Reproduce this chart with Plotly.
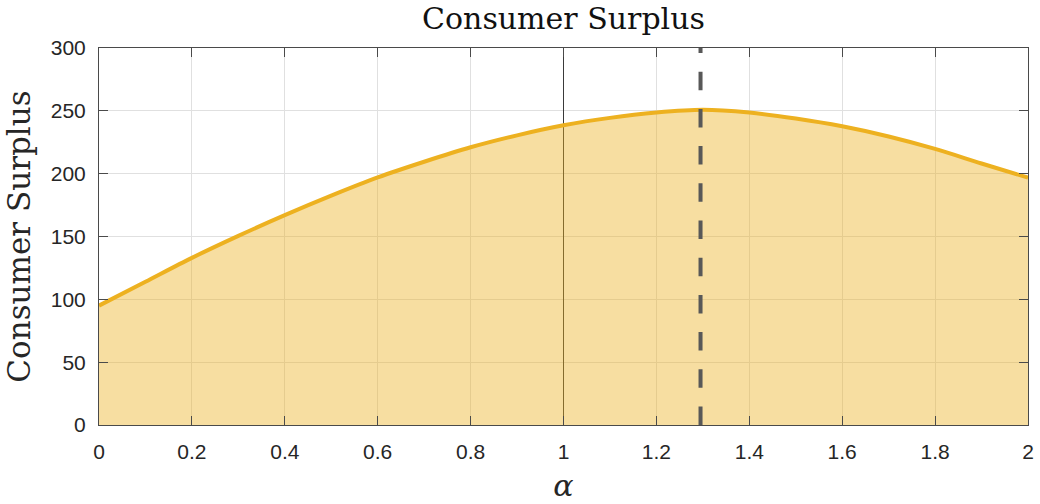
import plotly.graph_objects as go

# Consumer surplus as a function of alpha
alpha = [0.0, 0.1, 0.2, 0.3, 0.4, 0.5, 0.6, 0.7, 0.8, 0.9, 1.0,
         1.1, 1.2, 1.3, 1.4, 1.5, 1.6, 1.7, 1.8, 1.9, 2.0]
surplus = [95, 114, 133, 150.5, 167, 182.5, 197, 209.5, 221, 230.5, 238.5,
           244.4, 248.6, 250.8, 248.6, 243.9, 237.7, 229.6, 219.7, 208.1, 196.8]

alpha_star = 1.295      # maximiser of consumer surplus
alpha_ref = 1.0         # reference value of alpha
y_range = [0, 300]

x_ticks = [0, 0.2, 0.4, 0.6, 0.8, 1, 1.2, 1.4, 1.6, 1.8, 2]
x_tick_text = ["0", "0.2", "0.4", "0.6", "0.8", "1", "1.2", "1.4", "1.6", "1.8", "2"]
y_ticks = [0, 50, 100, 150, 200, 250, 300]

curve_color = "#EDB120"
fill_color = "rgba(237,177,32,0.42)"

fig = go.Figure()

# thin reference line at alpha = 1
fig.add_trace(go.Scatter(
    x=[alpha_ref, alpha_ref], y=y_range, mode="lines",
    line=dict(color="#3a3a3a", width=1), hoverinfo="skip", showlegend=False,
))

# surplus curve with shaded area underneath
fig.add_trace(go.Scatter(
    x=alpha, y=surplus, mode="lines",
    line=dict(color=curve_color, width=4, shape="spline", smoothing=0.9),
    fill="tozeroy", fillcolor=fill_color, showlegend=False,
))

# dashed marker at the maximising alpha
fig.add_trace(go.Scatter(
    x=[alpha_star, alpha_star], y=y_range, mode="lines",
    line=dict(color="#585858", width=4, dash="18.5px,18.7px"),
    hoverinfo="skip", showlegend=False,
))

axis_common = dict(
    showline=True, linecolor="#4a4a4a", linewidth=1, mirror="ticks",
    ticks="inside", ticklen=9, tickwidth=1, tickcolor="#4a4a4a",
    showgrid=True, gridcolor="#e0e0e0", gridwidth=1, zeroline=False,
    tickfont=dict(family="Liberation Sans, Arial, sans-serif", size=21, color="#262626"),
)

fig.update_layout(
    width=1040, height=504,
    margin=dict(l=99, r=6, t=48, b=79),
    paper_bgcolor="white", plot_bgcolor="white",
    title=dict(
        text="Consumer Surplus", x=0.5, xanchor="center", xref="paper",
        y=1, yref="container", yanchor="top", pad=dict(t=8),
        font=dict(family="DejaVu Serif, serif", size=30, color="#111111"),
    ),
    xaxis=dict(
        range=[0, 2], tickvals=x_ticks, ticktext=x_tick_text,
        ticklabelstandoff=8,
        title=dict(text="<i>α</i>", standoff=12,
                   font=dict(family="DejaVu Serif, serif", size=30, color="#262626")),
        **axis_common,
    ),
    yaxis=dict(
        range=y_range, tickvals=y_ticks, ticklabelstandoff=8,
        title=dict(text="Consumer Surplus", standoff=10,
                   font=dict(family="DejaVu Serif, serif", size=31, color="#262626")),
        **axis_common,
    ),
)

fig.write_html("out.html")
